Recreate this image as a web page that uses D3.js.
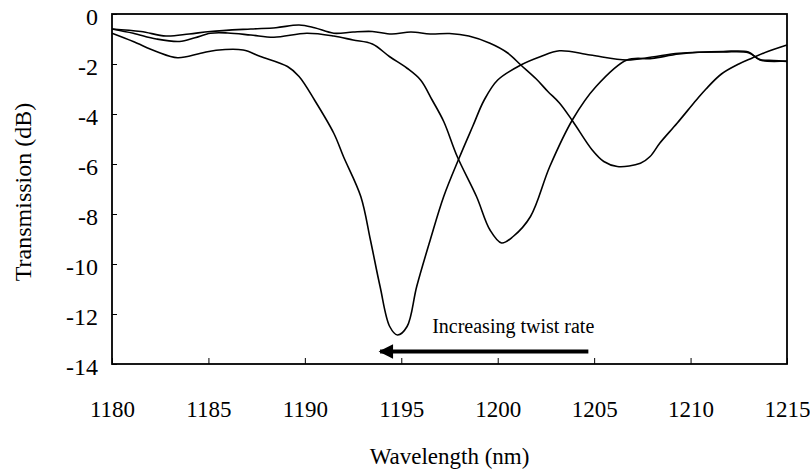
<!DOCTYPE html>
<html lang="en">
<head>
<meta charset="utf-8">
<title>Transmission vs wavelength</title>
<script src="https://d3js.org/d3.v7.min.js"></script>
<style>
  body { margin: 0; background: #fff; }
  svg text { font-family: "Liberation Serif", "Times New Roman", serif; fill: #000; }
  .axis path { display: none; }
  .axis line { stroke: #000; stroke-width: 1; }
  .trace { fill: none; stroke: #000; stroke-width: 1.6; }
</style>
</head>
<body>
<div id="chart"></div>
<script>
// tick values
var xTicks = [1180, 1185, 1190, 1195, 1200, 1205, 1210, 1215];
var yTicks = [0, -2, -4, -6, -8, -10, -12, -14];

// curve with the deepest notch (~1195 nm)
var wlA = [1180, 1181.1, 1182.3, 1183.4, 1184.6, 1185.4, 1186.8, 1187.7, 1189.1, 1189.7,
           1190.5, 1191.5, 1192.0, 1192.9, 1193.4, 1193.9, 1194.4, 1194.8, 1195.3, 1195.8,
           1196.5, 1197.2, 1198.0, 1198.7, 1199.3, 1200.0, 1201.2, 1202.2, 1203.2, 1204.8,
           1206.7, 1208, 1209.4, 1211.7, 1213, 1213.6, 1214.3, 1215];
var tA = [-0.77, -1.1, -1.5, -1.75, -1.57, -1.45, -1.44, -1.7, -2.1, -2.5,
          -3.44, -4.77, -5.7, -7.3, -9.04, -10.9, -12.5, -12.84, -12.5, -10.9,
          -9.04, -7.3, -5.76, -4.5, -3.44, -2.64, -2.04, -1.71, -1.47, -1.64,
          -1.84, -1.72, -1.57, -1.52, -1.55, -1.82, -1.86, -1.9];

// middle notch (~1200 nm)
var wlB = [1180, 1181.1, 1182.3, 1183.5, 1184.3, 1185.1, 1186, 1187.2, 1188.4, 1190.1,
           1191.5, 1192.5, 1193.5, 1194.4, 1195.3, 1196.0, 1196.6, 1197.2, 1197.9, 1198.9,
           1199.6, 1200.2, 1200.8, 1201.7, 1202.7, 1203.9, 1205.1, 1206.7, 1208, 1209.4,
           1211.7, 1213, 1213.6, 1215];
var tB = [-0.6, -0.77, -1.0, -1.1, -0.95, -0.77, -0.76, -0.84, -0.93, -0.77,
          -0.88, -1.04, -1.2, -1.71, -2.17, -2.64, -3.44, -4.3, -5.7, -7.3,
          -8.64, -9.16, -8.9, -8.1, -6.1, -4.2, -2.9, -1.84, -1.78, -1.6,
          -1.5, -1.52, -1.84, -1.88];

// shallow notch (~1206 nm)
var wlC = [1180, 1181.5, 1182.8, 1184, 1185.1, 1187.2, 1188.5, 1189.7, 1190.5, 1191.5,
           1192.5, 1193.5, 1194.5, 1195.5, 1196.5, 1197.5, 1198.5, 1199.6, 1200.5, 1201.2,
           1202, 1202.6, 1203.2, 1203.9, 1204.9, 1205.5, 1206.2, 1207.4, 1207.9, 1208.4,
           1209.3, 1210.3, 1210.8, 1211.6, 1212.5, 1213.2, 1214, 1215];
var tC = [-0.6, -0.7, -0.88, -0.8, -0.7, -0.6, -0.55, -0.44, -0.55, -0.77,
          -0.72, -0.7, -0.8, -0.72, -0.8, -0.78, -0.88, -1.17, -1.55, -2.04,
          -2.6, -3.1, -3.56, -4.3, -5.44, -5.9, -6.1, -5.97, -5.7, -5.17,
          -4.37, -3.44, -3.0, -2.4, -2.0, -1.76, -1.5, -1.24];

// annotation arrow (wavelength span, transmission level)
var arrowFrom = [1204.7, -13.5];
var arrowTo = [1193.9, -13.5];

var W = 810, H = 473;
var margin = { top: 14, right: 23, bottom: 109, left: 112 };
var width = W - margin.left - margin.right,
    height = H - margin.top - margin.bottom;

var svg = d3.select("#chart").append("svg")
    .attr("width", W)
    .attr("height", H);

var g = svg.append("g")
    .attr("transform", "translate(" + margin.left + "," + margin.top + ")");

var x = d3.scaleLinear().domain([1180, 1215]).range([0, width]);
var y = d3.scaleLinear().domain([-14, 0]).range([height, 0]);

// plain hyphen minus like the original
var fmt = function(d) { return String(d); };

// axes, ticks pointing inward
g.append("g")
    .attr("class", "axis")
    .attr("transform", "translate(0," + height + ")")
    .call(d3.axisBottom(x).tickValues(xTicks).tickSize(-6).tickPadding(37).tickFormat(fmt))
    .selectAll("text").style("font-size", "23px");

g.append("g")
    .attr("class", "axis")
    .call(d3.axisLeft(y).tickValues(yTicks).tickSize(-5).tickPadding(14).tickFormat(fmt))
    .selectAll("text").style("font-size", "24px").attr("dy", "0.42em");

// frame
g.append("rect")
    .attr("width", width)
    .attr("height", height)
    .attr("fill", "none")
    .attr("stroke", "#000")
    .attr("stroke-width", 1.8);

var line = d3.line()
    .x(function(d) { return x(d[0]); })
    .y(function(d) { return y(d[1]); })
    .curve(d3.curveCatmullRom.alpha(0.5));

[[wlA, tA], [wlB, tB], [wlC, tC]].forEach(function(s) {
  g.append("path")
      .attr("class", "trace")
      .attr("d", line(d3.zip(s[0], s[1])));
});

// arrow
svg.append("defs").append("marker")
    .attr("id", "head")
    .attr("viewBox", "0 0 10 10")
    .attr("refX", 9).attr("refY", 5)
    .attr("markerWidth", 4.5).attr("markerHeight", 3.6)
    .attr("orient", "auto")
  .append("path")
    .attr("d", "M0,0 L10,5 L0,10 Z")
    .attr("fill", "#000");

g.append("line")
    .attr("x1", x(arrowFrom[0])).attr("y1", y(arrowFrom[1]))
    .attr("x2", x(arrowTo[0])).attr("y2", y(arrowTo[1]))
    .attr("stroke", "#000")
    .attr("stroke-width", 4)
    .attr("marker-end", "url(#head)");

g.append("text")
    .attr("x", x(1196.6))
    .attr("y", y(-12.76))
    .style("font-size", "20px")
    .text("Increasing twist rate");

// axis titles
svg.append("text")
    .attr("x", margin.left + width / 2)
    .attr("y", 464)
    .attr("text-anchor", "middle")
    .style("font-size", "23px")
    .text("Wavelength (nm)");

svg.append("text")
    .attr("transform", "translate(31," + (margin.top + height / 2 + 3) + ") rotate(-90)")
    .attr("text-anchor", "middle")
    .style("font-size", "24px")
    .text("Transmission (dB)");
</script>
</body>
</html>
